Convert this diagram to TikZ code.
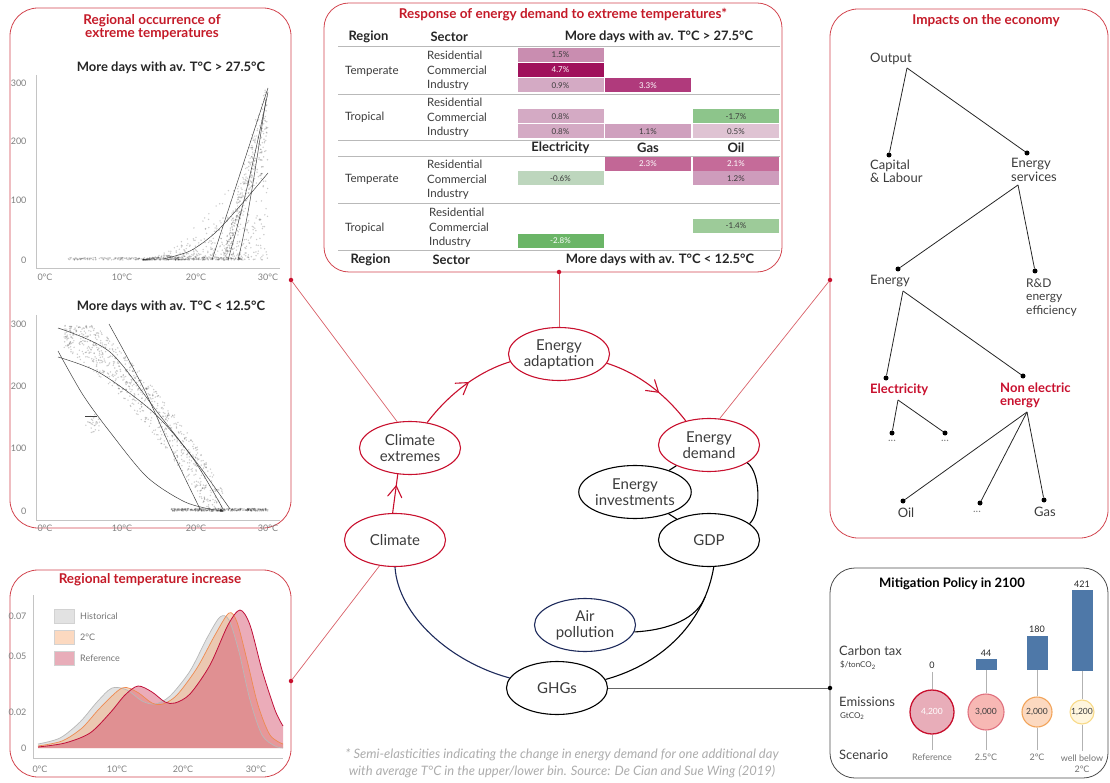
\documentclass[tikz,border=0pt]{standalone}
\usepackage{fontspec}
\setmainfont{Lato}
\usetikzlibrary{shapes.geometric,arrows.meta,decorations.markings}
\definecolor{crim}{HTML}{C8102E}
\definecolor{ttl}{HTML}{C41A28}
\definecolor{pbord}{HTML}{D2454F}
\definecolor{txt}{HTML}{3C3C3C}
\definecolor{axc}{HTML}{C4C4C4}
\definecolor{tickc}{HTML}{808080}
\definecolor{navy}{HTML}{1E2B5C}
\definecolor{barc}{HTML}{4E78A8}
\definecolor{histc}{HTML}{E2E2E2}
\definecolor{twoc}{HTML}{F3B48A}
\definecolor{refc}{HTML}{D75A74}
\definecolor{histl}{HTML}{B8B8B8}
\definecolor{twol}{HTML}{EE8A50}
\definecolor{refl}{HTML}{C0103A}
\definecolor{kA}{HTML}{C98DB0}
\definecolor{kB}{HTML}{A0115C}
\definecolor{kC}{HTML}{D4AAC4}
\definecolor{kD}{HTML}{B03A7C}
\definecolor{kE}{HTML}{8DC58B}
\definecolor{kF}{HTML}{CFA0BE}
\definecolor{kG}{HTML}{DFC3D3}
\definecolor{kH}{HTML}{C26796}
\definecolor{kI}{HTML}{C56B99}
\definecolor{kJ}{HTML}{BDD6BD}
\definecolor{kK}{HTML}{CE9CBC}
\definecolor{kL}{HTML}{9DCB99}
\definecolor{kM}{HTML}{6BB567}
\definecolor{cc1}{HTML}{E8ADB9}
\definecolor{cc2}{HTML}{F7B8B4}
\definecolor{cc2b}{HTML}{E0707E}
\definecolor{cc3}{HTML}{FCD9C0}
\definecolor{cc3b}{HTML}{F2A45A}
\definecolor{cc4}{HTML}{FFF6DE}
\definecolor{cc4b}{HTML}{F8DA88}
\begin{document}
\begin{tikzpicture}[x=1pt,y=-1pt,
  panel/.style={draw=pbord, line width=0.8pt, rounded corners=28pt},
  ell/.style={ellipse, line width=1.1pt, minimum width=101pt, minimum height=53pt, inner sep=0pt, align=center, font=\fontsize{15}{16}\selectfont, text=txt},
  redell/.style={ell, draw=crim},
  blkell/.style={ell, draw=black},
  navyell/.style={ell, draw=navy},
  ttlf/.style={font=\bfseries\fontsize{13.5}{13}\selectfont, text=ttl, align=center},
  hdr/.style={font=\bfseries\fontsize{13}{13}\selectfont, text=black!85},
  rowt/.style={font=\fontsize{11.5}{12}\selectfont, text=txt, anchor=west, inner sep=0pt},
  cell/.style={minimum width=86pt, minimum height=14pt, inner sep=0pt, font=\fontsize{8}{8}\selectfont, text=txt},
  wcell/.style={cell, text=white},
  tline/.style={draw=gray!55, line width=0.6pt},
  tlab/.style={font=\fontsize{9}{9}\selectfont, text=tickc},
  axis/.style={draw=axc, line width=0.7pt},
  dotc/.style={fill=black, fill opacity=0.2},
  fitc/.style={draw=black!75, line width=0.5pt},
  tdot/.style={circle, fill=black, inner sep=0pt, minimum size=5pt},
  treel/.style={draw=black!85, line width=0.8pt},
  treet/.style={font=\fontsize{13}{13.5}\selectfont, text=txt, align=left, anchor=west, inner sep=0pt},
  redt/.style={font=\bfseries\fontsize{13}{13.5}\selectfont, text=crim, align=left, anchor=west, inner sep=0pt},
  small/.style={font=\fontsize{11}{11}\selectfont, text=gray},
  link/.style={draw=pbord!85, line width=0.7pt},
  pdot/.style={circle, fill=crim, inner sep=0pt, minimum size=4.5pt},
  redarrow/.style={draw=crim, line width=1.1pt, postaction={decorate, decoration={markings, mark=at position #1 with {\draw[crim, line width=1.1pt, line cap=round, line join=round] (-11pt,7pt) -- (0pt,0pt) -- (-11pt,-7pt);}}}},
  bar/.style={fill=barc, minimum width=21pt, inner sep=0pt, anchor=south},
  vlab/.style={font=\fontsize{9}{9}\selectfont, text=black!85},
  brl/.style={font=\fontsize{13}{13}\selectfont, text=txt, anchor=west, inner sep=0pt},
  brs/.style={font=\fontsize{8}{8}\selectfont, text=txt, anchor=west, inner sep=0pt},
  slab/.style={font=\fontsize{9}{11}\selectfont, text=gray!90!black, align=center},
  gline/.style={draw=gray!60, line width=0.7pt},
  bubble/.style={circle, inner sep=0pt, font=\fontsize{8.5}{8.5}\selectfont, text=txt},
  leg/.style={draw=gray!35, line width=0.6pt, minimum width=20pt, minimum height=14pt, inner sep=0pt},
  legt/.style={font=\fontsize{9}{9}\selectfont, text=gray!90!black, anchor=west, inner sep=0pt}
]
\useasboundingbox (0,0) rectangle (1110,783);

%% ---------- panels ----------
\draw[panel] (10,8) rectangle (291,528);
\draw[panel, rounded corners=25pt] (324,3) rectangle (782,272);
\draw[panel] (830,9) rectangle (1108,538);
\draw[panel] (10,570) rectangle (291,777);
\draw[draw=black!70, line width=0.8pt, rounded corners=25pt] (830,568) rectangle (1108,778);

%% ---------- top-left panel ----------
\node[ttlf] (tlt) at (152,27) {Regional occurrence of\\extreme temperatures};
\node[hdr] (sub1) at (171,68) {More days with av. T°C > 27.5°C};
\draw[axis] (36,75) -- (36,268) -- (280,268);
\node[tlab, anchor=east] (a300) at (30,83) {300};
\node[tlab, anchor=east] (a200) at (30,141) {200};
\node[tlab, anchor=east] (a100) at (30,200) {100};
\node[tlab, anchor=east] (a0) at (30,260) {0};
\node[tlab] (ax0) at (45,277) {0°C};
\node[tlab] (ax10) at (122,277) {10°C};
\node[tlab] (ax20) at (196,277) {20°C};
\node[tlab] (ax30) at (268,277) {30°C};
\pgfmathsetseed{12}
\foreach \i in {1,...,260}{
  \pgfmathsetmacro\T{3+24*rnd}
  \pgfmathsetmacro\V{4*rnd}
  \fill[dotc] ({45+7.43*\T},{260-0.59*\V}) circle (0.8);
}
\foreach \i in {1,...,480}{
  \pgfmathsetmacro\T{13+17*rnd}
  \pgfmathsetmacro\V{300*((\T-12)/18)^2*rnd*rnd}
  \fill[dotc] ({45+7.43*\T},{260-0.59*\V}) circle (0.8);
}
\foreach \i in {1,...,320}{
  \pgfmathsetmacro\T{24+6*rnd}
  \pgfmathsetmacro\W{max(0,290*(\T-24)/6*(0.6+0.5*rnd)+30*(rnd-0.5))}
  \pgfmathsetmacro\V{min(\W,580-\W)}
  \fill[dotc] ({45+7.43*\T},{260-0.59*\V}) circle (0.8);
}
\draw[fitc] plot[smooth] coordinates {(163,259) (190,251) (215,233) (240,206) (268,173)};
\draw[fitc] (212,260) -- (268,88);
\draw[fitc] (228,260) .. controls (244,205) and (256,150) .. (268,92);
\draw[fitc] (238,260) .. controls (250,210) and (258,150) .. (266,100);

\node[hdr] (sub2) at (171,307) {More days with av. T°C < 12.5°C};
\draw[axis] (36,315) -- (36,520) -- (280,520);
\node[tlab, anchor=east] (b300) at (30,324) {300};
\node[tlab, anchor=east] (b200) at (30,386) {200};
\node[tlab, anchor=east] (b100) at (30,448) {100};
\node[tlab, anchor=east] (b0) at (30,511) {0};
\node[tlab] (bx0) at (45,528) {0°C};
\node[tlab] (bx10) at (122,528) {10°C};
\node[tlab] (bx20) at (196,528) {20°C};
\node[tlab] (bx30) at (268,528) {30°C};
\foreach \i in {1,...,800}{
  \pgfmathsetmacro\T{2.5+21.5*rnd}
  \pgfmathsetmacro\B{(\T-2.5)/21.5}
  \pgfmathsetmacro\W{max(0,300*(1-0.6*\B-0.4*\B*\B)+75*(rnd-0.5))}
  \pgfmathsetmacro\V{min(\W,596-\W)}
  \fill[dotc] ({45+7.43*\T},{511-0.623*\V}) circle (0.8);
}
\foreach \i in {1,...,350}{
  \pgfmathsetmacro\T{17+13*rnd}
  \pgfmathsetmacro\V{4*rnd}
  \fill[dotc] ({45+7.43*\T},{511-0.623*\V}) circle (0.8);
}
\foreach \i in {1,...,30}{
  \pgfmathsetmacro\T{5.5+2*rnd}
  \pgfmathsetmacro\V{125+30*rnd}
  \fill[dotc] ({45+7.43*\T},{511-0.623*\V}) circle (0.8);
}
\draw[fitc] plot[smooth] coordinates {(58,328) (110,352) (158,413) (200,467) (230,509)};
\draw[fitc] plot[smooth] coordinates {(58,357) (100,373) (153,412) (192,457) (223,509)};
\draw[fitc] plot[smooth] coordinates {(109,324) (143,387) (173,453) (200,509)};
\draw[fitc] plot[smooth] coordinates {(58,351) (83,395) (110,432) (147,477) (185,502) (215,510)};
\draw[fitc] (85,416) -- (97,416);

%% ---------- bottom-left panel ----------
\node[ttlf] (blt) at (150,580) {Regional temperature increase};
\draw[axis] (33,595) -- (33,758) -- (283,758);
\node[tlab, anchor=east] (c007) at (30,616) {0.07};
\node[tlab, anchor=east] (c005) at (30,656) {0.05};
\node[tlab, anchor=east] (c002) at (30,712) {0.02};
\node[tlab, anchor=east] (c0) at (30,748) {0};
\node[tlab] (cx0) at (40,769) {0°C};
\node[tlab] (cx10) at (117,769) {10°C};
\node[tlab] (cx20) at (183,769) {20°C};
\node[tlab] (cx30) at (256,769) {30°C};
\fill[histc] (38,748) -- plot[smooth] coordinates {(38,744) (60,738) (80,722) (97,702) (112,688) (127,690) (142,701) (155,704) (170,696) (190,671) (207,638) (220,617) (229,620) (239,652) (250,700) (262,735) (275,746) (283,748)} -- cycle;
\fill[twoc, fill opacity=0.55] (38,748) -- plot[smooth] coordinates {(38,746) (62,741) (82,728) (100,708) (122,688) (137,692) (152,703) (163,704) (177,695) (197,668) (215,635) (229,613) (237,622) (247,660) (258,705) (270,735) (283,744)} -- (283,748) -- cycle;
\fill[refc, fill opacity=0.5] (38,748) -- plot[smooth] coordinates {(38,747) (65,743) (90,733) (110,713) (125,695) (138,686) (152,692) (165,702) (175,703) (190,694) (210,665) (228,625) (240,610) (250,625) (262,670) (275,710) (283,726)} -- (283,748) -- cycle;
\draw[histl, line width=0.7pt] plot[smooth] coordinates {(38,744) (60,738) (80,722) (97,702) (112,688) (127,690) (142,701) (155,704) (170,696) (190,671) (207,638) (220,617) (229,620) (239,652) (250,700) (262,735) (275,746) (283,748)};
\draw[twol, line width=0.7pt] plot[smooth] coordinates {(38,746) (62,741) (82,728) (100,708) (122,688) (137,692) (152,703) (163,704) (177,695) (197,668) (215,635) (229,613) (237,622) (247,660) (258,705) (270,735) (283,744)};
\draw[refl, line width=0.8pt] plot[smooth] coordinates {(38,747) (65,743) (90,733) (110,713) (125,695) (138,686) (152,692) (165,702) (175,703) (190,694) (210,665) (228,625) (240,610) (250,625) (262,670) (275,710) (283,726)};
\node[leg, fill=histc] (lg1) at (64,616) {};
\node[leg, fill=cc3] (lg2) at (64,637) {};
\node[leg, fill=cc1] (lg3) at (64,658) {};
\node[legt] (lt1) at (80,616) {Historical};
\node[legt] (lt2) at (80,637) {2°C};
\node[legt] (lt3) at (80,658) {Reference};

%% ---------- top-center table ----------
\node[ttlf] (tct) at (563,15) {Response of energy demand to extreme temperatures*};
\node[hdr, anchor=west] (hreg) at (345,37) {Region};
\node[hdr, anchor=west] (hsec) at (427,37) {Sector};
\node[hdr] (hhot) at (659,37) {More days with av. T°C > 27.5°C};
\draw[tline] (338,46) -- (780,46);
\draw[tline] (338,94) -- (780,94);
\draw[tline] (338,140) -- (780,140);
\draw[tline] (338,156) -- (780,156);
\draw[tline] (338,203) -- (780,203);
\draw[tline] (338,250) -- (780,250);
% group 1
\node[rowt] (g1) at (345,71) {Temperate};
\node[rowt] (g1a) at (427,55) {Residential};
\node[rowt] (g1b) at (427,70) {Commercial};
\node[rowt] (g1c) at (427,85) {Industry};
\node[cell, fill=kA] (k11) at (560.5,55) {1.5\%};
\node[wcell, fill=kB] (k12) at (560.5,70) {4.7\%};
\node[cell, fill=kC] (k13) at (560.5,85.5) {0.9\%};
\node[wcell, fill=kD] (k14) at (648,85.5) {3.3\%};
% group 2
\node[rowt] (g2) at (345,117) {Tropical};
\node[rowt] (g2a) at (427,102) {Residential};
\node[rowt] (g2b) at (427,117) {Commercial};
\node[rowt] (g2c) at (427,132) {Industry};
\node[cell, fill=kC] (k21) at (560.5,116.5) {0.8\%};
\node[cell, fill=kE] (k22) at (736,116.5) {-1.7\%};
\node[cell, fill=kC] (k23) at (560.5,131.5) {0.8\%};
\node[cell, fill=kF] (k24) at (648,131.5) {1.1\%};
\node[cell, fill=kG] (k25) at (736,131.5) {0.5\%};
% fuel header
\node[hdr] (fe) at (560.5,148) {Electricity};
\node[hdr] (fg) at (648,148) {Gas};
\node[hdr] (fo) at (736,148) {Oil};
% group 3
\node[rowt] (g3) at (345,179) {Temperate};
\node[rowt] (g3a) at (427,164) {Residential};
\node[rowt] (g3b) at (427,179) {Commercial};
\node[rowt] (g3c) at (427,194) {Industry};
\node[wcell, fill=kH] (k31) at (648,164) {2.3\%};
\node[wcell, fill=kI] (k32) at (736,164) {2.1\%};
\node[cell, fill=kJ] (k33) at (560.5,178.5) {-0.6\%};
\node[cell, fill=kK] (k34) at (736,178.5) {1.2\%};
% group 4
\node[rowt] (g4) at (345,228) {Tropical};
\node[rowt] (g4a) at (429,212) {Residential};
\node[rowt] (g4b) at (429,227) {Commercial};
\node[rowt] (g4c) at (429,242) {Industry};
\node[cell, fill=kL] (k41) at (736,226) {-1.4\%};
\node[wcell, fill=kM] (k42) at (560.5,241) {-2.8\%};
% footer
\node[hdr, anchor=west] (freg) at (347,260) {Region};
\node[hdr, anchor=west] (fsec) at (429,260) {Sector};
\node[hdr] (fcold) at (660,260) {More days with av. T°C < 12.5°C};

%% ---------- top-right tree ----------
\node[ttlf] (trt) at (986,21) {Impacts on the economy};
\coordinate (oa) at (907,68);
\node[treet] (outt) at (870,59) {Output};
\node[tdot] (capd) at (889,155) {};
\node[tdot] (esd) at (1027,153) {};
\draw[treel] (oa) -- (capd);
\draw[treel] (oa) -- (esd);
\node[treet] (capt) at (870,171.5) {Capital\\\& Labour};
\node[treet] (est) at (1011,170) {Energy\\services};
\coordinate (esa) at (1018,185);
\node[tdot] (end) at (898,269) {};
\node[tdot] (rdd) at (1035,271) {};
\draw[treel] (esa) -- (end);
\draw[treel] (esa) -- (rdd);
\node[treet] (ent) at (870,281) {Energy};
\node[treet, font=\fontsize{12}{13.5}\selectfont] (rdt) at (1026,297.5) {R\&D\\energy\\efficiency};
\coordinate (ena) at (903,291);
\node[tdot] (eld) at (886,378) {};
\node[tdot] (ned) at (1023,376) {};
\draw[treel] (ena) -- (eld);
\draw[treel] (ena) -- (ned);
\node[redt] (elt) at (870,390) {Electricity};
\node[redt] (net) at (1000,395.5) {Non electric\\energy};
\coordinate (ela) at (898,400);
\node[tdot] (e1) at (892,433) {};
\node[tdot] (e2) at (945,433) {};
\draw[treel] (ela) -- (e1);
\draw[treel] (ela) -- (e2);
\node[small] (e1t) at (892,441) {...};
\node[small] (e2t) at (945,441) {...};
\coordinate (nea) at (1027,412);
\node[tdot] (oild) at (903,501) {};
\node[tdot] (dd) at (980,503) {};
\node[tdot] (gasd) at (1044,500) {};
\draw[treel] (nea) -- (oild);
\draw[treel] (nea) -- (dd);
\draw[treel] (nea) -- (gasd);
\node[treet, anchor=center] (oilt) at (906,513) {Oil};
\node[small] (ddt) at (977,512) {...};
\node[treet, anchor=center] (gast) at (1045,512) {Gas};

%% ---------- bottom-right panel ----------
\node[font=\bfseries\fontsize{13}{13}\selectfont, text=black] (mtt) at (952,584) {Mitigation Policy in 2100};
\node[brl] (ctx) at (839,651) {Carbon tax};
\node[brs] (ctu) at (840,665) {\$/tonCO\textsubscript{2}};
\node[brl] (emt) at (839,702) {Emissions};
\node[brs] (emu) at (840,716) {GtCO\textsubscript{2}};
\node[brl] (sct) at (839,755) {Scenario};
\node[bar, minimum height=11pt] (b2) at (986,670) {};
\node[bar, minimum height=34pt] (b3) at (1037,670) {};
\node[bar, minimum height=81pt] (b4) at (1082,671) {};
\node[vlab] (v1) at (932,665) {0};
\node[vlab] (v2) at (986,653) {44};
\node[vlab] (v3) at (1037,629) {180};
\node[vlab] (v4) at (1082,584) {421};
\node[bubble, minimum size=44pt, fill=cc1, draw=crim, line width=1.3pt, text=white] (m1) at (932,712) {4,200};
\node[bubble, minimum size=36pt, fill=cc2, draw=cc2b, line width=1.1pt] (m2) at (986,712) {3,000};
\node[bubble, minimum size=30pt, fill=cc3, draw=cc3b, line width=1.1pt] (m3) at (1037,712) {2,000};
\node[bubble, minimum size=24pt, fill=cc4, draw=cc4b, line width=1.1pt] (m4) at (1082,712) {1,200};
\node[slab] (s1) at (932,757) {Reference};
\node[slab] (s2) at (986,757) {2.5°C};
\node[slab] (s3) at (1037,757) {2°C};
\node[slab] (s4) at (1082,763.5) {well below\\2°C};
\draw[gline] (v1) -- (m1);
\draw[gline] (b2) -- (m2);
\draw[gline] (b3) -- (m3);
\draw[gline] (b4) -- (m4);
\draw[gline] (m1) -- (s1);
\draw[gline] (m2) -- (s2);
\draw[gline] (m3) -- (s3);
\draw[gline] (m4) -- (s4);

%% ---------- central cycle ----------
\node[redell] (ea) at (559,354) {Energy\\adaptation};
\node[redell] (cext) at (410,448) {Climate\\extremes};
\node[redell] (ed) at (709,445) {Energy\\demand};
\node[blkell] (ei) at (635,492) {Energy\\investments};
\node[blkell] (gdp) at (709,540) {GDP};
\node[redell] (clim) at (395,540) {Climate};
\node[navyell] (ap) at (585,625) {Air\\pollution};
\node[blkell] (ghg) at (557,688) {GHGs};
\coordinate (join) at (705,597);

\draw[redarrow=0.7] (clim.95) -- (cext.245);
\draw[redarrow=0.55] (cext.56) .. controls (448,395) and (477,372) .. (ea.189);
\draw[redarrow=0.6] (ea.349) .. controls (638,373) and (665,394) .. (ed.134);
\draw[black, line width=1.1pt] (ed.335) .. controls (760,472) and (762,512) .. (gdp.22);
\draw[black, line width=1.1pt] (ei) -- (ed);
\draw[black, line width=1.1pt] (ei) -- (gdp);
\draw[black, line width=1.1pt] (gdp.280) .. controls (705,620) and (665,663) .. (ghg.10);
\draw[black, line width=1.1pt] (ap.352) .. controls (670,630) and (697,618) .. (join);
\draw[navy, line width=1.1pt] (clim.south) .. controls (398,615) and (450,662) .. (ghg.168);

%% ---------- links to panels ----------
\node[pdot] (p1) at (291,280) {};
\node[pdot] (p2) at (559,272) {};
\node[pdot] (p3) at (830,280) {};
\node[pdot] (p4) at (291,681) {};
\node[circle, fill=black, inner sep=0pt, minimum size=4.5pt] (mdot) at (830,688) {};
\draw[link] (p1) -- (cext.116);
\draw[link] (p2) -- (ea.north);
\draw[link] (p3) -- (ed.68);
\draw[link] (p4) -- (clim.239);
\draw[draw=black!60, line width=0.8pt] (ghg.east) -- (mdot);

%% ---------- footnote ----------
\node[font=\itshape\fontsize{13}{17}\selectfont, text=gray!65, align=center] (fn) at (562,763) {* Semi-elasticities indicating the change in energy demand for one additional day\\with average T°C in the upper/lower bin. Source: De Cian and Sue Wing (2019)};
\end{tikzpicture}
\end{document}
